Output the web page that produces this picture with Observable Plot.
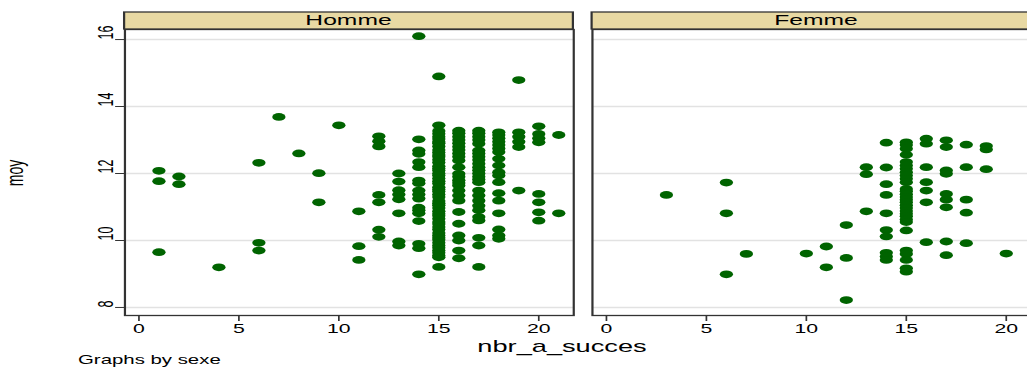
<!DOCTYPE html>
<html><head><meta charset="utf-8">
<script src="https://cdn.jsdelivr.net/npm/d3@7"></script>
<script src="https://cdn.jsdelivr.net/npm/@observablehq/plot@0.6"></script>
<style>
html,body{margin:0;padding:0;overflow:hidden;background:#fff;}
#chart{position:relative;width:1027px;height:367px;overflow:hidden;}
</style></head><body><div id="chart"></div>
<script>
const sexes = ["Homme", "Femme"];
const xTicks = [0, 5, 10, 15, 20];
const yTicks = [8, 10, 12, 14, 16];

const hommeSucces = [1, 2, 4, 6, 7, 8, 9, 10, 11, 12, 13, 14, 15, 16, 17, 18, 19, 20, 21];
const hommeMoy = [
  [12.08, 11.77, 9.65],
  [11.91, 11.68],
  [9.2],
  [12.32, 9.93, 9.70],
  [13.69],
  [12.6],
  [12.01, 11.14],
  [13.44],
  [10.87, 9.83, 9.42],
  [13.11, 12.96, 12.81, 11.36, 11.14, 10.32, 10.11],
  [12.0, 11.76, 11.50, 11.37, 11.23, 10.81, 9.97, 9.85],
  [16.1, 13.02, 12.69, 12.59, 12.34, 12.19, 11.79, 11.71, 11.49, 11.37, 11.25, 10.98, 10.90, 10.81, 10.58, 9.90, 9.77, 8.99],
  [14.9, 13.44, 13.27, 13.19, 13.1, 13.03, 12.95, 12.9, 12.81, 12.7, 12.63, 12.55, 12.5, 12.41, 12.33, 12.22, 12.15, 12.09, 12.0, 11.94, 11.85, 11.77, 11.7, 11.59, 11.52, 11.46, 11.37, 11.3, 11.18, 11.11, 11.05, 10.97, 10.87, 10.8, 10.74, 10.65, 10.55, 10.49, 10.4, 10.33, 10.22, 10.15, 10.08, 10.02, 9.93, 9.85, 9.78, 9.7, 9.63, 9.55, 9.5, 9.21],
  [13.28, 13.2, 13.1, 13.0, 12.9, 12.8, 12.7, 12.6, 12.5, 12.39, 12.19, 11.99, 11.9, 11.8, 11.72, 11.64, 11.49, 11.34, 11.19, 10.85, 10.50, 10.15, 10.0, 9.70, 9.47],
  [13.28, 13.2, 13.1, 13.0, 12.89, 12.69, 12.6, 12.5, 12.4, 12.29, 12.19, 12.1, 12.0, 11.9, 11.82, 11.74, 11.49, 11.34, 11.19, 11.04, 10.90, 10.70, 10.60, 10.08, 9.85, 9.21],
  [13.23, 13.15, 13.05, 12.95, 12.85, 12.75, 12.64, 12.44, 12.24, 12.04, 11.94, 11.74, 11.41, 11.19, 10.81, 10.33, 10.15, 10.05],
  [14.79, 13.23, 13.1, 12.95, 12.79, 11.49],
  [13.41, 13.18, 13.05, 12.93, 11.39, 11.14, 10.84, 10.59],
  [13.15, 10.81]
];

const femmeSucces = [3, 6, 7, 10, 11, 12, 13, 14, 15, 16, 17, 18, 19, 20];
const femmeMoy = [
  [11.36],
  [11.73, 10.81, 8.99],
  [9.6],
  [9.61],
  [9.82, 9.2],
  [10.46, 9.48, 8.22],
  [12.19, 11.98, 10.87],
  [12.92, 12.18, 11.68, 11.36, 10.81, 10.31, 10.12, 9.63, 9.52, 9.42],
  [12.93, 12.85, 12.74, 12.56, 12.34, 12.24, 12.14, 12.04, 11.94, 11.84, 11.74, 11.54, 11.47, 11.38, 11.3, 11.22, 11.14, 11.05, 10.97, 10.88, 10.8, 10.72, 10.63, 10.55, 10.30, 9.70, 9.60, 9.42, 9.17, 9.07],
  [13.04, 12.89, 12.19, 11.74, 11.49, 11.14, 9.95],
  [12.99, 12.79, 12.09, 11.99, 11.39, 11.22, 10.99, 9.97, 9.56],
  [12.86, 12.19, 11.22, 10.83, 9.92],
  [12.82, 12.72, 12.13],
  [9.61]
];

const rows = [];
hommeSucces.forEach((s, i) => hommeMoy[i].forEach(m => rows.push({sexe: "Homme", succes: s, moy: m})));
femmeSucces.forEach((s, i) => femmeMoy[i].forEach(m => rows.push({sexe: "Femme", succes: s, moy: m})));

const S = 1.7;      // horizontal stretch of the original picture
const W = 1040, H = 367;
const FONT = "'Liberation Sans', Arial, Helvetica, sans-serif";

const plot = Plot.plot({
  width: W / S, height: H,
  marginLeft: 123 / S, marginRight: 0, marginTop: 29, marginBottom: 52,
  style: {fontFamily: FONT, fontSize: "12.5px", color: "#000", background: "transparent", overflow: "visible"},
  fx: {domain: sexes, paddingInner: 19 / 468, paddingOuter: 0, label: null, axis: null},
  x: {domain: [-0.7, 21.75], axis: null},
  y: {domain: [7.76, 16.3], axis: null},
  marks: [
    Plot.gridY(yTicks, {stroke: "#e2e2e2", strokeWidth: 1.5, strokeOpacity: 1}),
    Plot.dot(rows, {fx: "sexe", x: "succes", y: "moy", r: 3.9, fill: "#006400", stroke: "none"}),
    Plot.frame({stroke: "#333", strokeWidth: 1.3}),
    Plot.axisX(xTicks, {tickSize: 6, tickPadding: 3, label: null, fontSize: 12.5, stroke: "#333"}),
    Plot.axisY(yTicks, {tickSize: 9 / S, tickFormat: () => "", label: null, stroke: "#333"}),
    Plot.text(yTicks, {fx: () => "Homme", y: d => d, text: d => String(d), frameAnchor: "left", rotate: -90, dx: -11, fontSize: 12.5})
  ]
});

plot.setAttribute("width", W);
plot.setAttribute("height", H);
plot.setAttribute("viewBox", `0 0 ${W / S} ${H}`);
plot.setAttribute("preserveAspectRatio", "none");
plot.style.maxWidth = "none";
plot.style.width = W + "px";
plot.style.height = H + "px";

const fx = plot.scale("fx");
const svg = d3.select(plot);
const g = svg.append("g").attr("font-family", FONT).attr("text-anchor", "start");
sexes.forEach(s => {
  const x0 = fx.apply(s);
  g.append("rect").attr("x", x0).attr("y", 12).attr("width", fx.bandwidth).attr("height", 17)
    .attr("fill", "#e8d9a3").attr("stroke", "#333").attr("stroke-width", 1.3);
  g.append("text").attr("x", x0 + fx.bandwidth / 2).attr("y", 25.5).attr("text-anchor", "middle")
    .attr("font-size", 14.5).attr("fill", "#000").text(s);
});
g.append("text").attr("x", 562 / S).attr("y", 352).attr("text-anchor", "middle")
  .attr("font-size", 16).attr("fill", "#000").text("nbr_a_succes");
g.append("text").attr("x", 78 / S).attr("y", 364).attr("text-anchor", "start")
  .attr("font-size", 12).attr("fill", "#000").text("Graphs by sexe");
g.append("text").attr("transform", `translate(${23 / S},173) rotate(-90)`).attr("text-anchor", "middle")
  .attr("font-size", 14).attr("fill", "#000").text("moy");

document.getElementById("chart").appendChild(plot);
</script></body></html>
